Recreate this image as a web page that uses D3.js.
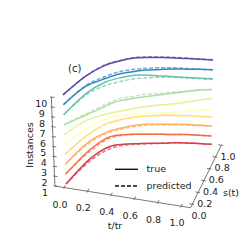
<!DOCTYPE html>
<html>
<head>
<meta charset="utf-8">
<script src="https://cdn.jsdelivr.net/npm/d3@7"></script>
<style>
  html, body { margin: 0; padding: 0; background: #fff; }
  svg { display: block; font-family: "DejaVu Sans", sans-serif; }
</style>
</head>
<body>
<div id="chart"></div>
<script>
// t/tr sample points shared by every curve
const tValues = [0, 0.1, 0.2, 0.3, 0.4, 0.5, 0.6, 0.7, 0.8, 0.9, 1.0];

// instance index (vertical axis), bottom to top
const instances = [1, 2, 3, 4, 5, 6, 7, 8, 9, 10];

const colors = [
  "#d53e4f", "#f46d43", "#fdae61", "#fee08b", "#ffffbf",
  "#e6f598", "#abdda4", "#66c2a5", "#3288bd", "#5e4fa2",
];

// s(t), true curves, one row per instance
const sTrue = [
  [0, 0.48, 0.70, 0.77, 0.81, 0.85, 0.88, 0.92, 0.95, 0.97, 0.99],
  [0, 0.45, 0.69, 0.76, 0.80, 0.83, 0.86, 0.89, 0.92, 0.94, 0.96],
  [0, 0.41, 0.60, 0.70, 0.78, 0.83, 0.86, 0.89, 0.92, 0.94, 0.955],
  [0, 0.35, 0.57, 0.67, 0.75, 0.80, 0.84, 0.87, 0.90, 0.92, 0.94],
  [0, 0.27, 0.46, 0.56, 0.62, 0.67, 0.71, 0.75, 0.80, 0.85, 0.89],
  [0, 0.24, 0.37, 0.46, 0.54, 0.61, 0.67, 0.72, 0.78, 0.85, 0.91],
  [0, 0.15, 0.30, 0.46, 0.54, 0.61, 0.67, 0.73, 0.79, 0.85, 0.89],
  [0, 0.40, 0.60, 0.70, 0.77, 0.80, 0.82, 0.84, 0.86, 0.88, 0.90],
  [0, 0.33, 0.47, 0.59, 0.66, 0.72, 0.76, 0.80, 0.83, 0.86, 0.885],
  [0, 0.33, 0.53, 0.64, 0.72, 0.76, 0.79, 0.815, 0.84, 0.86, 0.88],
];

// s(t), predicted curves
const sPred = [
  [0, 0.42, 0.65, 0.75, 0.80, 0.84, 0.88, 0.92, 0.95, 0.97, 0.99],
  [0, 0.41, 0.66, 0.75, 0.80, 0.83, 0.86, 0.89, 0.92, 0.94, 0.96],
  [0, 0.37, 0.57, 0.68, 0.76, 0.81, 0.85, 0.88, 0.91, 0.93, 0.95],
  [0, 0.33, 0.55, 0.66, 0.74, 0.79, 0.83, 0.86, 0.89, 0.91, 0.935],
  [0, 0.27, 0.46, 0.56, 0.62, 0.67, 0.71, 0.75, 0.80, 0.85, 0.89],
  [0, 0.24, 0.37, 0.46, 0.54, 0.61, 0.67, 0.72, 0.78, 0.85, 0.91],
  [0, 0.17, 0.34, 0.50, 0.58, 0.65, 0.70, 0.75, 0.80, 0.85, 0.89],
  [0, 0.36, 0.53, 0.63, 0.71, 0.76, 0.80, 0.83, 0.85, 0.87, 0.89],
  [0, 0.35, 0.51, 0.63, 0.70, 0.75, 0.79, 0.82, 0.84, 0.86, 0.885],
  [0, 0.33, 0.54, 0.65, 0.73, 0.77, 0.80, 0.825, 0.845, 0.86, 0.88],
];

const tTicks = [0, 0.2, 0.4, 0.6, 0.8, 1.0];
const sTicks = [0, 0.2, 0.4, 0.6, 0.8, 1.0];
const zTicks = [1, 2, 3, 4, 5, 6, 7, 8, 9, 10];

const width = 249;
const height = 249;

// oblique projection: each axis maps to a screen vector
const tx = d3.scaleLinear().domain([0, 1]).range([0, 117]);
const ty = d3.scaleLinear().domain([0, 1]).range([0, 18.7]);
const sx = d3.scaleLinear().domain([0, 1]).range([0, 29]);
const sy = d3.scaleLinear().domain([0, 1]).range([0, -59]);
const zx = d3.scaleLinear().domain([1, 10]).range([66, 63.03]);
const zy = d3.scaleLinear().domain([1, 10]).range([184, 94.9]);
// closer (higher) planes are drawn a bit larger
const depth = d3.scaleLinear().domain([1, 10]).range([1, 1.054]);

function proj(t, s, z) {
  const f = depth(z);
  return [zx(z) + f * (tx(t) + sx(s)), zy(z) + f * (ty(t) + sy(s))];
}

const box = { t0: -0.08, t1: 1.08, s0: -0.06, s1: 1.0, z0: 1, z1: 10 };

const svg = d3.select("#chart").append("svg")
  .attr("width", width)
  .attr("height", height);

const axisColor = "#555";
const fontSize = 9.5;

// axis lines
const axisLines = [
  [proj(box.t0, box.s0, box.z0), proj(box.t1, box.s0, box.z0)],
  [proj(box.t1, box.s0, box.z0), proj(box.t1, box.s1, box.z0)],
  [proj(box.t0, box.s0, box.z0), proj(box.t0, box.s0, box.z1)],
];
svg.append("g").selectAll("line")
  .data(axisLines)
  .join("line")
  .attr("x1", (d) => d[0][0]).attr("y1", (d) => d[0][1])
  .attr("x2", (d) => d[1][0]).attr("y2", (d) => d[1][1])
  .attr("stroke", axisColor)
  .attr("stroke-width", 0.8);

// t ticks
const tg = svg.append("g");
tTicks.forEach((t) => {
  const a = proj(t, box.s0 - 0.02, box.z0);
  const b = proj(t, box.s0 + 0.04, box.z0);
  tg.append("line")
    .attr("x1", a[0]).attr("y1", a[1]).attr("x2", b[0]).attr("y2", b[1])
    .attr("stroke", axisColor).attr("stroke-width", 0.8);
  const p = proj(t, box.s0, box.z0);
  tg.append("text")
    .attr("x", p[0] - 4.3).attr("y", p[1] + 17.5)
    .attr("text-anchor", "middle")
    .attr("dominant-baseline", "middle")
    .style("font-size", fontSize + "px")
    .style("fill", "#222")
    .text(t.toFixed(1));
});

// s ticks
const sg = svg.append("g");
sTicks.forEach((s) => {
  const a = proj(box.t1 - 0.025, s, box.z0);
  const b = proj(box.t1 + 0.015, s, box.z0);
  sg.append("line")
    .attr("x1", a[0]).attr("y1", a[1]).attr("x2", b[0]).attr("y2", b[1])
    .attr("stroke", axisColor).attr("stroke-width", 0.8);
  const p = proj(box.t1, s, box.z0);
  sg.append("text")
    .attr("x", p[0] + 6.6).attr("y", p[1] + 12)
    .attr("text-anchor", "middle")
    .attr("dominant-baseline", "middle")
    .style("font-size", fontSize + "px")
    .style("fill", "#222")
    .text(s.toFixed(1));
});

// z ticks
const zg = svg.append("g");
zTicks.forEach((z) => {
  const a = proj(box.t0 - 0.01, box.s0, z);
  const b = proj(box.t0 + 0.025, box.s0, z);
  zg.append("line")
    .attr("x1", a[0]).attr("y1", a[1]).attr("x2", b[0]).attr("y2", b[1])
    .attr("stroke", axisColor).attr("stroke-width", 0.8);
  const p = proj(box.t0, box.s0, z);
  zg.append("text")
    .attr("x", p[0] - 10).attr("y", p[1] + 7.5)
    .attr("text-anchor", "middle")
    .attr("dominant-baseline", "middle")
    .style("font-size", fontSize + "px")
    .style("fill", "#222")
    .text(z);
});

// axis titles
svg.append("text")
  .attr("x", 115).attr("y", 226.5)
  .attr("text-anchor", "middle").attr("dominant-baseline", "middle")
  .style("font-size", fontSize + "px").style("fill", "#222")
  .text("t/tr");
svg.append("text")
  .attr("x", 231).attr("y", 193)
  .attr("text-anchor", "middle").attr("dominant-baseline", "middle")
  .style("font-size", fontSize + "px").style("fill", "#222")
  .text("s(t)");
svg.append("text")
  .attr("transform", "translate(30,145) rotate(-90)")
  .attr("text-anchor", "middle").attr("dominant-baseline", "middle")
  .style("font-size", fontSize + "px").style("fill", "#222")
  .text("Instances");

// curves
const line = d3.line()
  .x((d) => d[0])
  .y((d) => d[1])
  .curve(d3.curveCatmullRom.alpha(0.5));

const curves = svg.append("g");
instances.forEach((z, i) => {
  const pred = tValues.map((t, j) => proj(t, sPred[i][j], z));
  const tru = tValues.map((t, j) => proj(t, sTrue[i][j], z));
  curves.append("path")
    .datum(tru)
    .attr("fill", "none")
    .attr("stroke", colors[i])
    .attr("stroke-width", 1.5)
    .attr("d", line);
  curves.append("path")
    .datum(pred)
    .attr("fill", "none")
    .attr("stroke", colors[i])
    .attr("stroke-opacity", 0.7)
    .attr("stroke-width", 1.5)
    .attr("stroke-dasharray", "4,2")
    .attr("d", line);
});

// panel tag
svg.append("text")
  .attr("x", 68).attr("y", 69)
  .attr("dominant-baseline", "middle")
  .style("font-size", "10px").style("fill", "#222")
  .text("(c)");

// legend
const legendItems = [
  { name: "true", dash: null, y: 169.3 },
  { name: "predicted", dash: "4,2", y: 186 },
];
const legend = svg.append("g");
legendItems.forEach((d) => {
  legend.append("line")
    .attr("x1", 115).attr("x2", 138)
    .attr("y1", d.y).attr("y2", d.y)
    .attr("stroke", "#111")
    .attr("stroke-width", 1.4)
    .attr("stroke-dasharray", d.dash);
  legend.append("text")
    .attr("x", 146.5).attr("y", d.y)
    .attr("dominant-baseline", "middle")
    .style("font-size", fontSize + "px").style("fill", "#222")
    .text(d.name);
});
</script>
</body>
</html>
